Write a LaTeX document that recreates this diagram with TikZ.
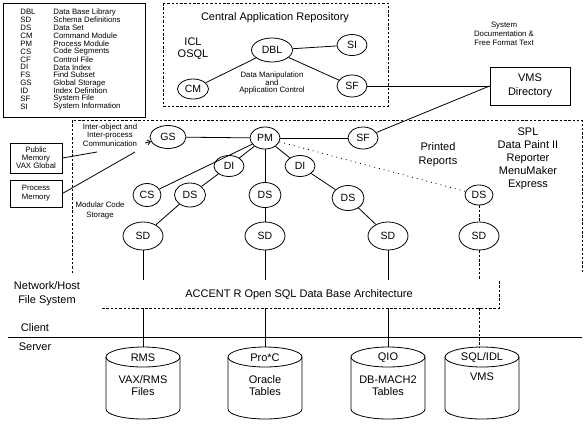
\documentclass[tikz,border=0pt]{standalone}
\usepackage{fontspec}
\setmainfont{Liberation Sans}
\usetikzlibrary{shapes.geometric,arrows.meta}
\begin{document}
\begin{tikzpicture}[x=1pt,y=-1pt,
  line width=0.8pt,
  ell/.style={draw, ellipse, inner sep=0pt, minimum width=#1, minimum height=23pt, font=\fontsize{10.5}{12}\selectfont},
  ell/.default=32pt,
  sdell/.style={ell=40pt, minimum height=28pt},
  lbl/.style={font=\fontsize{11}{13}\selectfont, align=center, inner sep=0pt},
  small/.style={font=\fontsize{7.8}{8.5}\selectfont, align=center, inner sep=0pt},
  leg/.style={font=\fontsize{7.8}{8}\selectfont, inner sep=0pt, anchor=west},
  dsh/.style={dash pattern=on 2.5pt off 1.8pt},
  dots/.style={dash pattern=on 0.9pt off 4pt},
  boxed/.style={draw, rectangle, inner sep=0pt, align=center}
]
\useasboundingbox (0,0) rectangle (588,429);

% legend
\node[boxed, minimum width=142pt, minimum height=114pt, anchor=north west] (legend) at (3,3) {};
\foreach \ab/\desc [count=\i from 0] in {DBL/Data Base Library, SD/Schema Definitions, DS/Data Set, CM/Command Module, PM/Process Module, CS/Code Segments, CF/Control File, DI/Data Index, FS/Find Subset, GS/Global Storage, ID/Index Definition, SF/System File, SI/System Information}{
  \node[leg] (la\i) at (20,{12+7.9*\i}) {\ab};
  \node[leg] (ld\i) at (53,{12+7.9*\i}) {\desc};
}

% central application repository
\draw[dsh] (163,3) rectangle (388,106);
\node[lbl] (cartitle) at (275,18) {Central Application Repository};
\node[lbl, font=\fontsize{11}{12}\selectfont] (icl) at (193,49) {ICL\\OSQL};
\node[ell=41pt, minimum height=24pt] (DBL) at (272,50) {DBL};
\node[ell=30pt, minimum height=21pt] (SI) at (352,45) {SI};
\node[ell=30pt, minimum height=22pt] (SFa) at (352,86) {SF};
\node[ell=31pt, minimum height=20pt] (CM) at (193,89) {CM};
\node[small, font=\fontsize{7.8}{7.6}\selectfont] (dmac) at (272,83) {Data Manipulation\\and\\Application Control};
\draw (DBL) -- (SI);
\draw (DBL) -- (CM);
\draw (DBL) -- (SFa);

% VMS directory
\node[boxed, minimum width=80pt, minimum height=38pt, font=\fontsize{11}{14}\selectfont] (VMS) at (530,86) {VMS\\Directory};
\node[small, font=\fontsize{7.8}{9}\selectfont] (sysdoc) at (504,34) {System\\Documentation \&\\Free Format Text};
\draw (SFa) -- (SFa -| VMS.west);

% middle region
\draw[dsh] (72,273) -- (72,120) -- (582,120) -- (582,273);
\node[ell=36pt] (GS) at (168,137) {GS};
\node[ell=30pt, minimum height=22pt] (PM) at (265,138) {PM};
\node[ell=30pt, minimum height=22pt] (SFb) at (363,138) {SF};
\node[ell=30pt, minimum height=21pt] (DI1) at (229,166) {DI};
\node[ell=30pt, minimum height=21pt] (DI2) at (300,166) {DI};
\node[ell=28pt, minimum height=23pt] (CS) at (147,195) {CS};
\node[ell=31pt, minimum height=24pt] (DS1) at (190,195) {DS};
\node[ell=32pt, minimum height=25pt] (DS2) at (265,195) {DS};
\node[ell=32pt, minimum height=25pt] (DS3) at (348,198) {DS};
\node[ell=28pt, minimum height=20pt] (DS4) at (479,195) {DS};
\node[sdell] (SD1) at (143,236) {SD};
\node[sdell] (SD2) at (265,236) {SD};
\node[sdell] (SD3) at (388,236) {SD};
\node[sdell] (SD4) at (479,236) {SD};

\draw (GS) -- (PM);
\draw (PM) -- (SFb);
\draw (SFb) -- (VMS.west);
\draw (PM) -- (CS);
\draw (PM) -- (DI1);
\draw (PM) -- (DI2);
\draw (PM) -- (DS2);
\draw (DI1) -- (DS1);
\draw (DI2) -- (DS3);
\draw (DS1) -- (SD1);
\draw (DS2) -- (SD2);
\draw (DS3) -- (SD3);
\draw[dsh] (DS4) -- (SD4);
\draw[dots] (PM) -- (DS4);

\node[small] (ipc) at (110,135) {Inter-object and\\Inter-process\\Communication};
\coordinate (arrtail) at (145,143);
\draw[-{Straight Barb[length=3pt,width=5pt]}] (arrtail) -- (GS);
\node[small, font=\fontsize{7.8}{10}\selectfont] (mcs) at (100,210) {Modular Code\\Storage};
\node[lbl, font=\fontsize{11}{14}\selectfont] (printed) at (438,155) {Printed\\Reports};
\node[lbl] (spl) at (528,159) {SPL\\Data Paint II\\Reporter\\MenuMaker\\Express};

% memory boxes
\node[boxed, small, font=\fontsize{7.8}{8}\selectfont, minimum width=52pt, minimum height=30pt] (pubmem) at (36,158) {Public\\Memory\\VAX Global};
\node[boxed, small, font=\fontsize{7.8}{9}\selectfont, minimum width=52pt, minimum height=27pt] (procmem) at (36,193.5) {Process\\Memory};
\coordinate (pmend1) at (97,152);
\coordinate (pmend2) at (135,152);
\draw (pubmem.east) -- (pmend1);
\draw (procmem.east) -- (pmend2);

% SD down to architecture
\coordinate (b1) at (143,280);
\coordinate (b2) at (265,280);
\coordinate (b3) at (388,280);
\coordinate (b4) at (479,280);
\draw (SD1) -- (b1);
\draw (SD2) -- (b2);
\draw (SD3) -- (b3);
\draw[dsh] (SD4) -- (b4);

\node[lbl] (accent) at (299,295) {ACCENT R Open SQL Data Base Architecture};
\draw[dsh] (102,308) -- (499,308) -- (499,280);

\node[lbl, font=\fontsize{11}{14}\selectfont] (nethost) at (47,294) {Network/Host\\File System};
\node[lbl] (client) at (35,328) {Client};
\node[lbl] (server) at (35,347) {Server};
\coordinate (cll) at (8,337);
\coordinate (clr) at (582,337);
\draw (cll) -- (clr);

% cylinders
\foreach \cx in {143,265,388,482}{
  \draw ({\cx-37},357) -- ({\cx-37},409) arc[start angle=180,end angle=360,x radius=37pt,y radius=10pt] -- ({\cx+37},357);
  \draw (\cx,357) ellipse[x radius=37pt,y radius=10pt];
}
\coordinate (t1) at (143,308);
\coordinate (t2) at (265,308);
\coordinate (t3) at (388,308);
\coordinate (t4) at (479,308);
\coordinate (c1) at (143,347);
\coordinate (c2) at (265,347);
\coordinate (c3) at (388,347);
\coordinate (c4) at (479,347.2);
\draw (t1) -- (c1);
\draw (t2) -- (c2);
\draw (t3) -- (c3);
\draw[dsh] (t4) -- (c4);

\node[lbl] (rms) at (143,358) {RMS};
\node[lbl, font=\fontsize{11}{12}\selectfont] (vaxrms) at (143,386) {VAX/RMS\\Files};
\node[lbl] (proc) at (265,358) {Pro*C};
\node[lbl, font=\fontsize{11}{12}\selectfont] (oracle) at (265,386) {Oracle\\Tables};
\node[lbl] (qio) at (388,358) {QIO};
\node[lbl, font=\fontsize{11}{12}\selectfont] (dbmach) at (388,386) {DB-MACH2\\Tables};
\node[lbl] (sqlidl) at (482,358) {SQL/IDL};
\node[lbl] (vms2) at (482,377) {VMS};
\end{tikzpicture}
\end{document}
